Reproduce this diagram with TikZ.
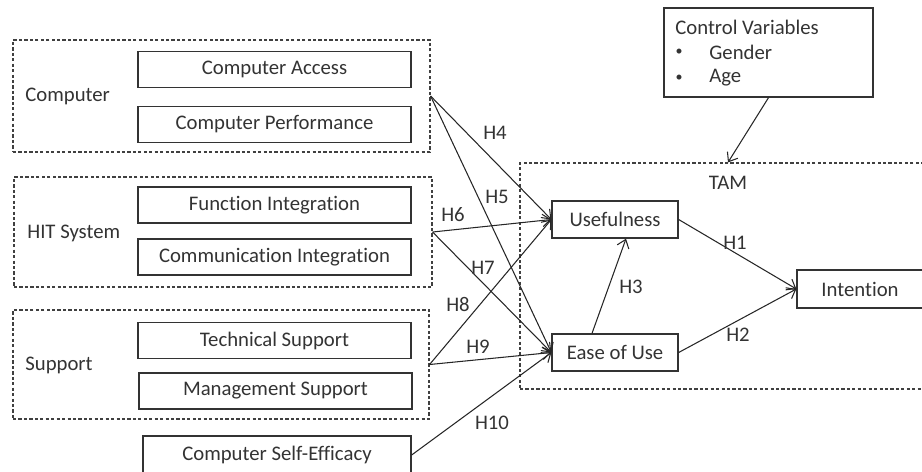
\documentclass[tikz,border=0pt]{standalone}
\usepackage{fontspec}
\setmainfont{Carlito}[Ligatures=NoCommon]
\usetikzlibrary{arrows.meta}
\begin{document}
\begin{tikzpicture}[x=0.02cm,y=-0.02cm,
    font=\fontsize{11.8}{13}\selectfont,
    every node/.style={text=black!80},
    box/.style={draw=black!80,line width=0.75pt,minimum width=5.46cm,minimum height=0.72cm,inner sep=0pt},
    group/.style={draw=black!75,line width=0.7pt,dash pattern=on 1.8pt off 1.3pt,inner sep=0pt},
    tag/.style={inner sep=0pt},
    hyp/.style={draw=black!85,line width=0.6pt,-{Straight Barb[length=4.5pt,width=7pt]}}]
  \useasboundingbox (0,0) rectangle (922,471);

  % groups on the left
  \node[group,minimum width=8.34cm,minimum height=2.24cm] (gc) at (221.5,96) {};
  \node[group,minimum width=8.36cm,minimum height=2.2cm] (gh) at (223,232) {};
  \node[group,minimum width=8.32cm,minimum height=2.18cm] (gs) at (221,364.5) {};

  \node[tag,anchor=west] (lc) at (25,96) {Computer};
  \node[tag,anchor=west] (lh) at (27,233) {HIT System};
  \node[tag,anchor=west] (ls) at (25,365) {Support};

  \node[box] (ca) at (274.5,69.5) {Computer Access};
  \node[box] (cp) at (274.5,124.5) {Computer Performance};
  \node[box] (fi) at (274.5,205) {Function Integration};
  \node[box] (ci) at (274.5,257) {Communication Integration};
  \node[box] (ts) at (274.5,340.5) {Technical Support};
  \node[box] (ms) at (275.5,391) {Management Support};
  \node[box,minimum width=5.36cm,minimum height=0.76cm] (se) at (277,455) {Computer Self-Efficacy};

  % TAM
  \node[group,minimum width=8.32cm,minimum height=4.52cm] (tam) at (728,276) {};
  \node[tag] (tl) at (728,183) {TAM};
  \node[box,minimum width=2.52cm,minimum height=0.74cm] (use) at (615,219.5) {Usefulness};
  \node[box,minimum width=2.52cm,minimum height=0.74cm] (ease) at (615,352.5) {Ease of Use};
  \node[box,minimum width=2.52cm,minimum height=0.76cm] (int) at (860,289) {Intention};

  % control variables
  \node[box,minimum width=4.18cm,minimum height=1.78cm] (ctrl) at (768.5,52.5) {};
  \node[tag,anchor=west] (cv) at (675,27) {Control Variables};
  \node[tag] (d1) at (679,52) {\footnotesize\textbullet};
  \node[tag,anchor=west] (gen) at (709,52) {Gender};
  \node[tag] (d2) at (679,78) {\footnotesize\textbullet};
  \node[tag,anchor=west] (age) at (709,78) {Age};

  \draw[hyp] (ctrl.south) to (tam.north);

  % hypotheses
  \draw[hyp] (gc.east) to (use.west);
  \draw[hyp] (gc.east) to (ease.west);
  \draw[hyp] (gh.east) to (use.west);
  \draw[hyp] (gh.east) to (ease.west);
  \draw[hyp] (gs.east) to (use.west);
  \draw[hyp] (gs.east) to (ease.west);
  \draw[hyp] (se.east) to (ease.west);
  \draw[hyp] (use.east) to (int.west);
  \draw[hyp] (ease.east) to (int.west);
  \draw[hyp] ([xshift=-0.46cm]ease.north) to ([xshift=0.22cm]use.south);

  \node[tag] (h1) at (735,243) {H1};
  \node[tag] (h2) at (738,335) {H2};
  \node[tag] (h3) at (631,287) {H3};
  \node[tag] (h4) at (495,133) {H4};
  \node[tag] (h5) at (497,197) {H5};
  \node[tag] (h6) at (453,215) {H6};
  \node[tag] (h7) at (483,268) {H7};
  \node[tag] (h8) at (458,304) {H8};
  \node[tag] (h9) at (478,347) {H9};
  \node[tag] (h10) at (492,423) {H10};
\end{tikzpicture}
\end{document}
